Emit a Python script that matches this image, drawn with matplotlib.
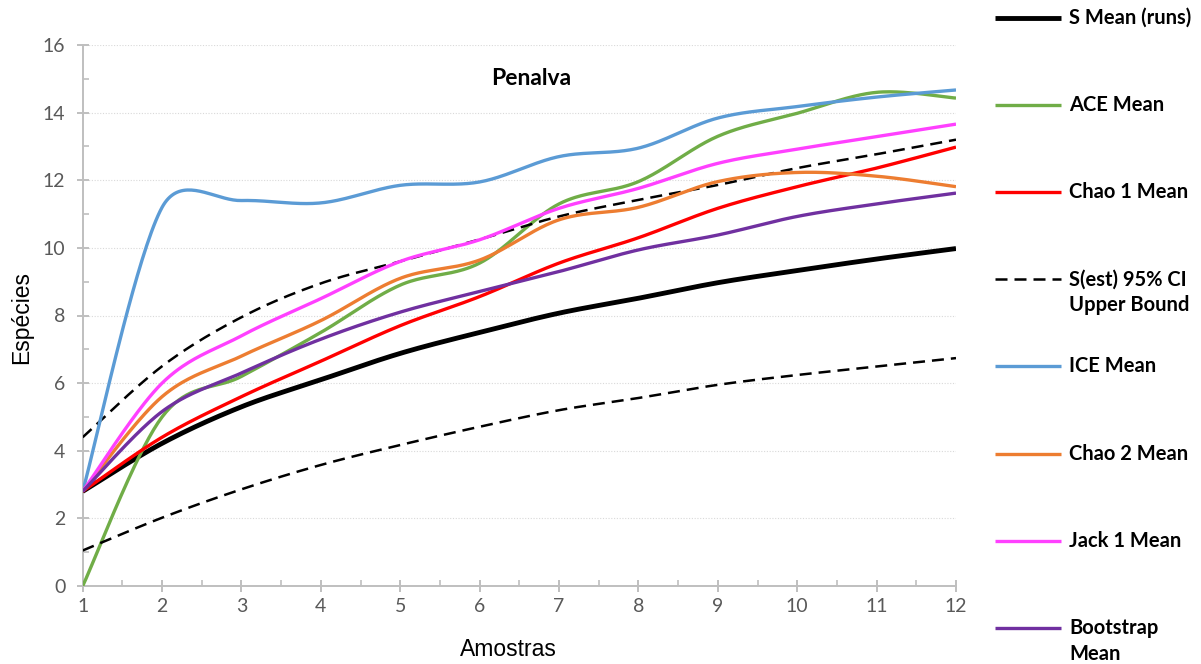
import matplotlib
matplotlib.use("Agg")
import matplotlib.pyplot as plt
import numpy as np
from matplotlib.lines import Line2D

# values, one per sample (Amostras 1..12)
amostras = np.arange(1, 13)
s_mean = [2.8, 4.22, 5.3, 6.1, 6.88, 7.5, 8.07, 8.51, 8.97, 9.33, 9.67, 9.98]
ace_mean = [0.0, 5.0, 6.2, 7.5, 8.9, 9.55, 11.3, 11.96, 13.3, 13.98, 14.6, 14.43]
chao1_mean = [2.8, 4.4, 5.6, 6.65, 7.7, 8.56, 9.55, 10.3, 11.17, 11.81, 12.36, 12.98]
ci_upper = [4.4, 6.5, 7.95, 8.95, 9.6, 10.25, 10.93, 11.42, 11.86, 12.36, 12.77, 13.2]
ci_lower = [1.05, 2.02, 2.86, 3.58, 4.17, 4.71, 5.2, 5.56, 5.95, 6.24, 6.49, 6.74]
ice_mean = [2.8, 11.2, 11.4, 11.33, 11.85, 11.95, 12.7, 12.95, 13.84, 14.18, 14.46, 14.67]
chao2_mean = [2.8, 5.6, 6.8, 7.85, 9.1, 9.64, 10.83, 11.2, 11.96, 12.23, 12.12, 11.81]
jack1_mean = [2.8, 6.0, 7.4, 8.5, 9.6, 10.24, 11.17, 11.76, 12.5, 12.92, 13.29, 13.66]
bootstrap_mean = [2.8, 5.16, 6.3, 7.3, 8.1, 8.71, 9.3, 9.94, 10.38, 10.93, 11.3, 11.62]

y_ticks = np.arange(0, 17, 2)
title = "Penalva"

BODY = ["Lato", "DejaVu Sans"]
LABEL = ["Liberation Sans", "DejaVu Sans"]
AXIS_GRAY = "#BFBFBF"
TEXT_GRAY = "#595959"
DASH = (0, (4.8, 2.8))


def _arm(v, seg_len):
    length = np.hypot(*v)
    if length == 0:
        return v * 0
    return v / length * min(length / 6, seg_len / 2)


def smooth_line(ax, xs, ys, n=40):
    # spreadsheet-style smoothed line: cubic bezier per segment, built in screen space
    pts = ax.transData.transform(np.column_stack([xs, ys]))
    out = [pts[0]]
    t = np.linspace(0, 1, n)[1:, None]
    last = len(pts) - 1
    for i in range(last):
        p0, p1 = pts[max(i - 1, 0)], pts[i]
        p2, p3 = pts[i + 1], pts[min(i + 2, last)]
        d12 = np.hypot(*(p2 - p1))
        c1 = p1 + _arm(p2 - p0, d12)
        c2 = p2 - _arm(p3 - p1, d12)
        seg = (1 - t) ** 3 * p1 + 3 * (1 - t) ** 2 * t * c1 + 3 * (1 - t) * t ** 2 * c2 + t ** 3 * p2
        out.extend(seg)
    xy = ax.transData.inverted().transform(np.array(out))
    return xy[:, 0], xy[:, 1]


series = [
    ("S Mean (runs)", s_mean, "#000000", 3.5, "-"),
    ("ACE Mean", ace_mean, "#70AD47", 2.4, "-"),
    ("Chao 1 Mean", chao1_mean, "#FF0000", 2.4, "-"),
    ("S(est) 95% CI\nUpper Bound", ci_upper, "#000000", 1.8, DASH),
    ("ICE Mean", ice_mean, "#5B9BD5", 2.4, "-"),
    ("Chao 2 Mean", chao2_mean, "#ED7D31", 2.4, "-"),
    ("Jack 1 Mean", jack1_mean, "#FF40FF", 2.4, "-"),
    ("Bootstrap\nMean", bootstrap_mean, "#7030A0", 2.4, "-"),
    (None, ci_lower, "#000000", 1.8, DASH),
]

W, H = 1201, 664
fig = plt.figure(figsize=(W / 100, H / 100), dpi=100)
ax = fig.add_axes([82.7 / W, (H - 586) / H, (956 - 82.7) / W, (586 - 45) / H])
ax.set_xlim(1, 12)
ax.set_ylim(0, 16)

for z, (label, values, color, lw, ls) in enumerate(series):
    sx, sy = smooth_line(ax, amostras, values)
    ax.plot(sx, sy, color=color, lw=lw, linestyle=ls, solid_capstyle="butt", zorder=3 + z)

ax.set_xticks(amostras)
ax.set_xticks(np.arange(1.5, 12, 1), minor=True)
ax.set_yticks(y_ticks)
ax.set_yticks(np.arange(1, 16, 2), minor=True)
ax.grid(axis="y", which="major", color="#D9D9D9", linestyle=(0, (1, 1.5)), lw=0.8)
ax.set_axisbelow(True)
for side in ("top", "right"):
    ax.spines[side].set_visible(False)
for side in ("left", "bottom"):
    ax.spines[side].set_color(AXIS_GRAY)
    ax.spines[side].set_linewidth(1.4)
ax.tick_params(which="major", direction="inout", length=9, width=1.4, color=AXIS_GRAY,
               labelcolor=TEXT_GRAY, labelsize=14)
ax.tick_params(which="minor", direction="in", length=4, width=1.2, color=AXIS_GRAY)
ax.tick_params(axis="y", which="major", pad=8)
ax.tick_params(axis="x", which="major", pad=4)
for lab in ax.get_xticklabels() + ax.get_yticklabels():
    lab.set_family(BODY)

ax.set_xlabel("Amostras", family=LABEL, fontsize=16.5)
ax.set_ylabel("Espécies", family=LABEL, fontsize=16.5)
ax.xaxis.set_label_coords(0.488, -0.097)
ax.yaxis.set_label_coords(-0.057, 0.496)

ax.text(0.514, 0.939, title, transform=ax.transAxes, ha="center", va="center",
        family=BODY, fontsize=16.5, fontweight="bold")

# legend on the right, one row every ~87 px, swatch level with the first text line
leg_top, leg_step = 18, 87.1
for i, (label, values, color, lw, ls) in enumerate(s for s in series if s[0]):
    y = (H - (leg_top + i * leg_step)) / H
    fig.add_artist(Line2D([995 / W, 1061 / W], [y, y], transform=fig.transFigure,
                          color=color, lw=lw, linestyle=ls, solid_capstyle="butt"))
    for k, line in enumerate(label.split("\n")):
        fig.text(1069 / W, y - k * 26 / H, line, ha="left", va="center", family=BODY,
                 fontsize=14.5, fontweight="bold")

fig.savefig("out.png", dpi=100)
